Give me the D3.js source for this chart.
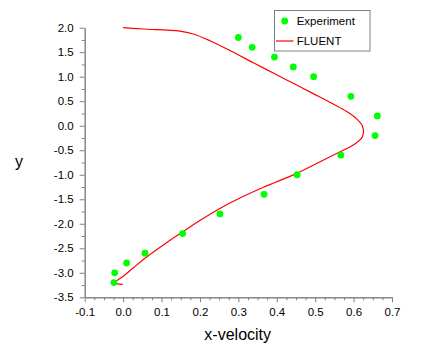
<!DOCTYPE html>
<html>
<head>
<meta charset="utf-8">
<script src="https://cdn.jsdelivr.net/npm/d3@7"></script>
<style>
  html, body { margin: 0; padding: 0; background: #fff; }
  svg { display: block; font-family: Arial, "Liberation Sans", sans-serif; }
</style>
</head>
<body>
<svg id="chart" width="436" height="359"></svg>
<script>
// ---- Data ----
const expX = [0.30, 0.336, 0.394, 0.443, 0.496, 0.593, 0.662, 0.656, 0.567, 0.453, 0.367, 0.252, 0.155, 0.057, 0.009, -0.022, -0.024];
const expY = [1.8, 1.6, 1.4, 1.2, 1.0, 0.6, 0.2, -0.2, -0.6, -1.0, -1.4, -1.8, -2.2, -2.6, -2.8, -3.0, -3.2];

const fluentX = [0.0, 0.053, 0.148, 0.183, 0.226, 0.278, 0.339, 0.391, 0.443, 0.495, 0.547, 0.582, 0.604, 0.623, 0.623, 0.599, 0.565, 0.513, 0.452, 0.367, 0.304, 0.252, 0.200, 0.157, 0.113, 0.061, 0.027, 0.0005, -0.021, -0.001];
const fluentY = [2.0, 1.973, 1.932, 1.871, 1.734, 1.534, 1.285, 1.075, 0.865, 0.655, 0.443, 0.290, 0.167, -0.006, -0.224, -0.394, -0.530, -0.735, -0.971, -1.251, -1.475, -1.687, -1.932, -2.154, -2.385, -2.679, -2.897, -3.070, -3.203, -3.235];

const xTicks = [-0.1, 0.0, 0.1, 0.2, 0.3, 0.4, 0.5, 0.6, 0.7];
const yTicks = [2.0, 1.5, 1.0, 0.5, 0.0, -0.5, -1.0, -1.5, -2.0, -2.5, -3.0, -3.5];
const seriesNames = ["Experiment", "FLUENT"];
const xTitle = "x-velocity";
const yTitle = "y";

// ---- Layout ----
const svg = d3.select("#chart");
const x = d3.scaleLinear().domain([-0.1, 0.7]).range([84.7, 392]);
const y = d3.scaleLinear().domain([-3.5, 2.0]).range([297.3, 27.7]);
const axisColor = "#808080";
const fmt = v => v.toFixed(1);  // plain hyphen-minus, as in the original

// minor ticks
const xMinor = d3.range(-0.1, 0.7001, 0.025).filter(v => Math.abs(Math.round(v * 10) - v * 10) > 1e-6);
const yMinor = d3.range(-3.5, 2.0001, 0.25).filter(v => Math.abs(Math.round(v * 2) - v * 2) > 1e-6);

const xAxisG = svg.append("g").attr("transform", `translate(0,${y(-3.5)})`)
  .call(d3.axisBottom(x).tickValues(xTicks).tickFormat(fmt).tickSize(5).tickSizeOuter(0).tickPadding(6));
const xMinorG = svg.append("g").attr("transform", `translate(0,${y(-3.5)})`)
  .call(d3.axisBottom(x).tickValues(xMinor).tickFormat("").tickSize(3).tickSizeOuter(0));
const yAxisG = svg.append("g").attr("transform", `translate(${x(-0.1)},0)`)
  .call(d3.axisLeft(y).tickValues(yTicks).tickFormat(fmt).tickSize(5).tickSizeOuter(0).tickPadding(6));
const yMinorG = svg.append("g").attr("transform", `translate(${x(-0.1)},0)`)
  .call(d3.axisLeft(y).tickValues(yMinor).tickFormat("").tickSize(3).tickSizeOuter(0));

[xAxisG, xMinorG, yAxisG, yMinorG].forEach(g => {
  g.select(".domain").attr("stroke", axisColor).attr("stroke-width", 1);
  g.selectAll(".tick line").attr("stroke", axisColor).attr("stroke-width", 1);
  g.selectAll(".tick text").attr("fill", "#000").style("font-size", "11.5px")
    .style("font-family", "Arial, 'Liberation Sans', sans-serif");
});

// axis titles
svg.append("text").attr("x", 237.7).attr("y", 339.5).attr("text-anchor", "middle")
  .style("font-size", "16px").attr("fill", "#000").text(xTitle);
svg.append("text").attr("x", 19).attr("y", 167).attr("text-anchor", "middle")
  .style("font-size", "16px").attr("fill", "#000").text(yTitle);

// FLUENT line
const lineData = fluentX.map((v, i) => [v, fluentY[i]]);
svg.append("path").datum(lineData)
  .attr("fill", "none").attr("stroke", "#ff0000").attr("stroke-width", 1.2)
  .attr("stroke-linejoin", "round")
  .attr("d", d3.line().curve(d3.curveCatmullRom.alpha(0.5)).x(d => x(d[0])).y(d => y(d[1])));

// Experiment points
const pts = expX.map((v, i) => [v, expY[i]]);
svg.append("g").selectAll("circle").data(pts).join("circle")
  .attr("cx", d => x(d[0])).attr("cy", d => y(d[1])).attr("r", 3.4)
  .attr("fill", "#00ff00");

// Legend
const lg = svg.append("g");
lg.append("rect").attr("x", 274.5).attr("y", 10.5).attr("width", 95.5).attr("height", 40.5)
  .attr("fill", "#fff").attr("stroke", axisColor).attr("stroke-width", 1);
lg.append("circle").attr("cx", 284.7).attr("cy", 21).attr("r", 3.4).attr("fill", "#00ff00");
lg.append("line").attr("x1", 276).attr("x2", 293.5).attr("y1", 41).attr("y2", 41)
  .attr("stroke", "#ff0000").attr("stroke-width", 1.2);
lg.selectAll("text.lab").data(seriesNames).join("text").attr("class", "lab")
  .attr("x", 296.7).attr("y", (d, i) => 25 + i * 20)
  .style("font-size", "11.5px").attr("fill", "#000").text(d => d);
</script>
</body>
</html>
